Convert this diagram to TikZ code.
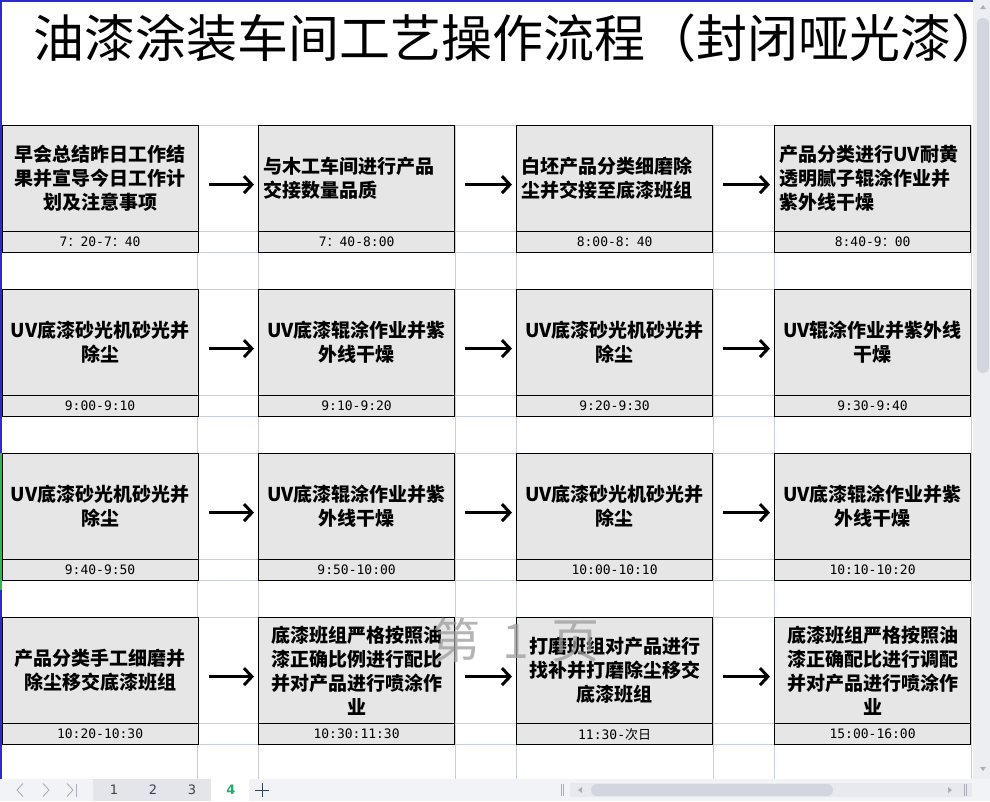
\documentclass[tikz,border=0pt]{standalone}
\usepackage{fontspec}
\setmainfont{DejaVu Sans}
\newfontfamily\cjk{Noto Sans CJK SC}
\newfontfamily\monofam{DejaVu Sans Mono}
\usetikzlibrary{arrows.meta}
\definecolor{boxgray}{HTML}{E6E6E6}
\definecolor{gridc}{HTML}{C8CEDF}
\definecolor{edgeblue}{HTML}{2B2BD0}
\definecolor{edgegreen}{HTML}{2DB84E}
\definecolor{barbg}{HTML}{F2F3F6}
\definecolor{tabbg}{HTML}{E4E5EA}
\definecolor{trackbg}{HTML}{E8E9EE}
\definecolor{thumbc}{HTML}{D3D6DE}
\definecolor{vbarbg}{HTML}{ECEEF2}
\definecolor{navgray}{HTML}{A9AEB8}
\definecolor{tabtext}{HTML}{3A4152}
\definecolor{tabgreen}{HTML}{1DAE6B}
\definecolor{wmc}{HTML}{9C9C9C}
\newcommand{\fwc}{{\cjk ：}}
\tikzset{
  gridline/.style={draw=gridc, line width=1pt},
  box/.style={draw=black, line width=1.2pt, fill=boxgray, anchor=north west,
    minimum width=196pt, minimum height=106pt, text width=186pt,
    inner xsep=5pt, inner ysep=0pt, align=center,
    font=\cjk\bfseries\fontsize{19}{24}\selectfont},
  boxL/.style={box, align=left},
  tbox/.style={draw=black, line width=1.2pt, fill=boxgray, anchor=north west,
    minimum width=196pt, minimum height=21pt, inner sep=0pt,
    font=\monofam\fontsize{13}{15}\selectfont},
  flowarrow/.style={line width=3pt, -{Straight Barb[length=8pt,width=17pt]}},
  titletext/.style={anchor=base west, inner sep=0pt, font=\cjk\fontsize{51}{54}\selectfont},
  wmtext/.style={inner sep=0pt, text=wmc, opacity=0.75, font=\cjk\fontsize{48}{50}\selectfont},
  tabnum/.style={inner sep=0pt, text=tabtext, font=\fontsize{13}{15}\selectfont},
  navline/.style={draw=navgray, line width=0.9pt},
  bar/.style={line width=1pt}
}
\begin{document}
\begin{tikzpicture}[x=1pt,y=-1pt]
\useasboundingbox (0,0) rectangle (990,801);
\fill[white] (0,0) rectangle (990,801);

% grid
\foreach \x in {197,258,455,516,713,774,971} \draw[gridline] (\x,125) -- (\x,779);
\foreach \y in {125,231,252,289,395,416,453,559,580,617,723,744} \draw[gridline] (0,\y) -- (971,\y);

% window edges
\draw[edgeblue, line width=1.6pt] (0.8,779) -- (0.8,0.8) -- (973,0.8);
\draw[edgegreen, line width=1.6pt] (0.8,453) -- (0.8,590);

% title
\node[titletext] (title) at (33,57) {油漆涂装车间工艺操作流程（封闭哑光漆）};

% row 1
\node[box] (b11) at (1.5,125) {早会总结昨日工作结\\果并宣导今日工作计\\划及注意事项};
\node[boxL] (b12) at (258,125) {与木工车间进行产品\\交接数量品质};
\node[boxL] (b13) at (516,125) {白坯产品分类细磨除\\尘并交接至底漆班组};
\node[boxL] (b14) at (774,125) {产品分类进行UV耐黄\\透明腻子辊涂作业并\\紫外线干燥};
\node[tbox] (t11) at (1.5,231) {7\fwc 20-7\fwc 40};
\node[tbox] (t12) at (258,231) {7\fwc 40-8:00};
\node[tbox] (t13) at (516,231) {8:00-8\fwc 40};
\node[tbox] (t14) at (774,231) {8:40-9\fwc 00};

% row 2
\node[box] (b21) at (1.5,289) {UV底漆砂光机砂光并\\除尘};
\node[box] (b22) at (258,289) {UV底漆辊涂作业并紫\\外线干燥};
\node[box] (b23) at (516,289) {UV底漆砂光机砂光并\\除尘};
\node[box] (b24) at (774,289) {UV辊涂作业并紫外线\\干燥};
\node[tbox] (t21) at (1.5,395) {9:00-9:10};
\node[tbox] (t22) at (258,395) {9:10-9:20};
\node[tbox] (t23) at (516,395) {9:20-9:30};
\node[tbox] (t24) at (774,395) {9:30-9:40};

% row 3
\node[box] (b31) at (1.5,453) {UV底漆砂光机砂光并\\除尘};
\node[box] (b32) at (258,453) {UV底漆辊涂作业并紫\\外线干燥};
\node[box] (b33) at (516,453) {UV底漆砂光机砂光并\\除尘};
\node[box] (b34) at (774,453) {UV底漆辊涂作业并紫\\外线干燥};
\node[tbox] (t31) at (1.5,559) {9:40-9:50};
\node[tbox] (t32) at (258,559) {9:50-10:00};
\node[tbox] (t33) at (516,559) {10:00-10:10};
\node[tbox] (t34) at (774,559) {10:10-10:20};

% row 4
\node[box] (b41) at (1.5,617) {产品分类手工细磨并\\除尘移交底漆班组};
\node[box] (b42) at (258,617) {底漆班组严格按照油\\漆正确比例进行配比\\并对产品进行喷涂作\\业};
\node[box] (b43) at (516,617) {打磨班组对产品进行\\找补并打磨除尘移交\\底漆班组};
\node[box] (b44) at (774,617) {底漆班组严格按照油\\漆正确配比进行调配\\并对产品进行喷涂作\\业};
\node[tbox] (t41) at (1.5,723) {10:20-10:30};
\node[tbox] (t42) at (258,723) {10:30:11:30};
\node[tbox] (t43) at (516,723) {11:30-{\cjk 次日}};
\node[tbox] (t44) at (774,723) {15:00-16:00};

% arrows
\foreach \r in {1,2,3,4}{
  \draw[flowarrow] ([xshift=10pt,yshift=-6pt]b\r1.east) -- ([xshift=-4pt,yshift=-6pt]b\r2.west);
  \draw[flowarrow] ([xshift=10pt,yshift=-6pt]b\r2.east) -- ([xshift=-4pt,yshift=-6pt]b\r3.west);
  \draw[flowarrow] ([xshift=10pt,yshift=-6pt]b\r3.east) -- ([xshift=-4pt,yshift=-6pt]b\r4.west);
}

% page watermark
\node[wmtext] (wm) at (516,640) {第\hspace{22pt}1\hspace{22pt}页};

% vertical scrollbar
\fill[vbarbg] (973,0) rectangle (990,779);
\fill[navgray] (980,9) -- (986,9) -- (983,5) -- cycle;
\fill[thumbc, rounded corners=5pt] (977,18) rectangle (989,373);
\fill[navgray] (980,767) -- (986,767) -- (983,771) -- cycle;

% bottom bar
\fill[barbg] (0,779) rectangle (990,801);
\fill[tabbg] (93,779) rectangle (211,801);
\fill[white] (211,779) rectangle (249,801);
\draw[navline] (23,783.5) -- (17,790) -- (23,796.5);
\draw[navline] (43,783.5) -- (49,790) -- (43,796.5);
\draw[navline] (67,783.5) -- (73,790) -- (67,796.5);
\draw[navline] (76.5,783.5) -- (76.5,796.5);
\node[tabnum] (tab1) at (114,790) {1};
\node[tabnum] (tab2) at (153,790) {2};
\node[tabnum] (tab3) at (192,790) {3};
\node[tabnum, text=tabgreen, font=\bfseries\fontsize{13}{15}\selectfont] (tab4) at (231,790) {4};
\draw[draw=tabtext, line width=1pt] (255,790) -- (269,790) (262,783) -- (262,797);
\fill[trackbg] (570,783) rectangle (972,797);
\fill[thumbc, rounded corners=6pt] (591,784) rectangle (833,796);
\fill[navgray] (582,787) -- (582,793) -- (578,790) -- cycle;
\fill[navgray] (948,787) -- (948,793) -- (952,790) -- cycle;
\draw[draw=navgray, line width=0.8pt] (561,784) -- (561,796) (563.5,784) -- (563.5,796);
\draw[draw=navgray, line width=0.8pt] (964,784) -- (964,796) (966.5,784) -- (966.5,796);
\end{tikzpicture}
\end{document}
